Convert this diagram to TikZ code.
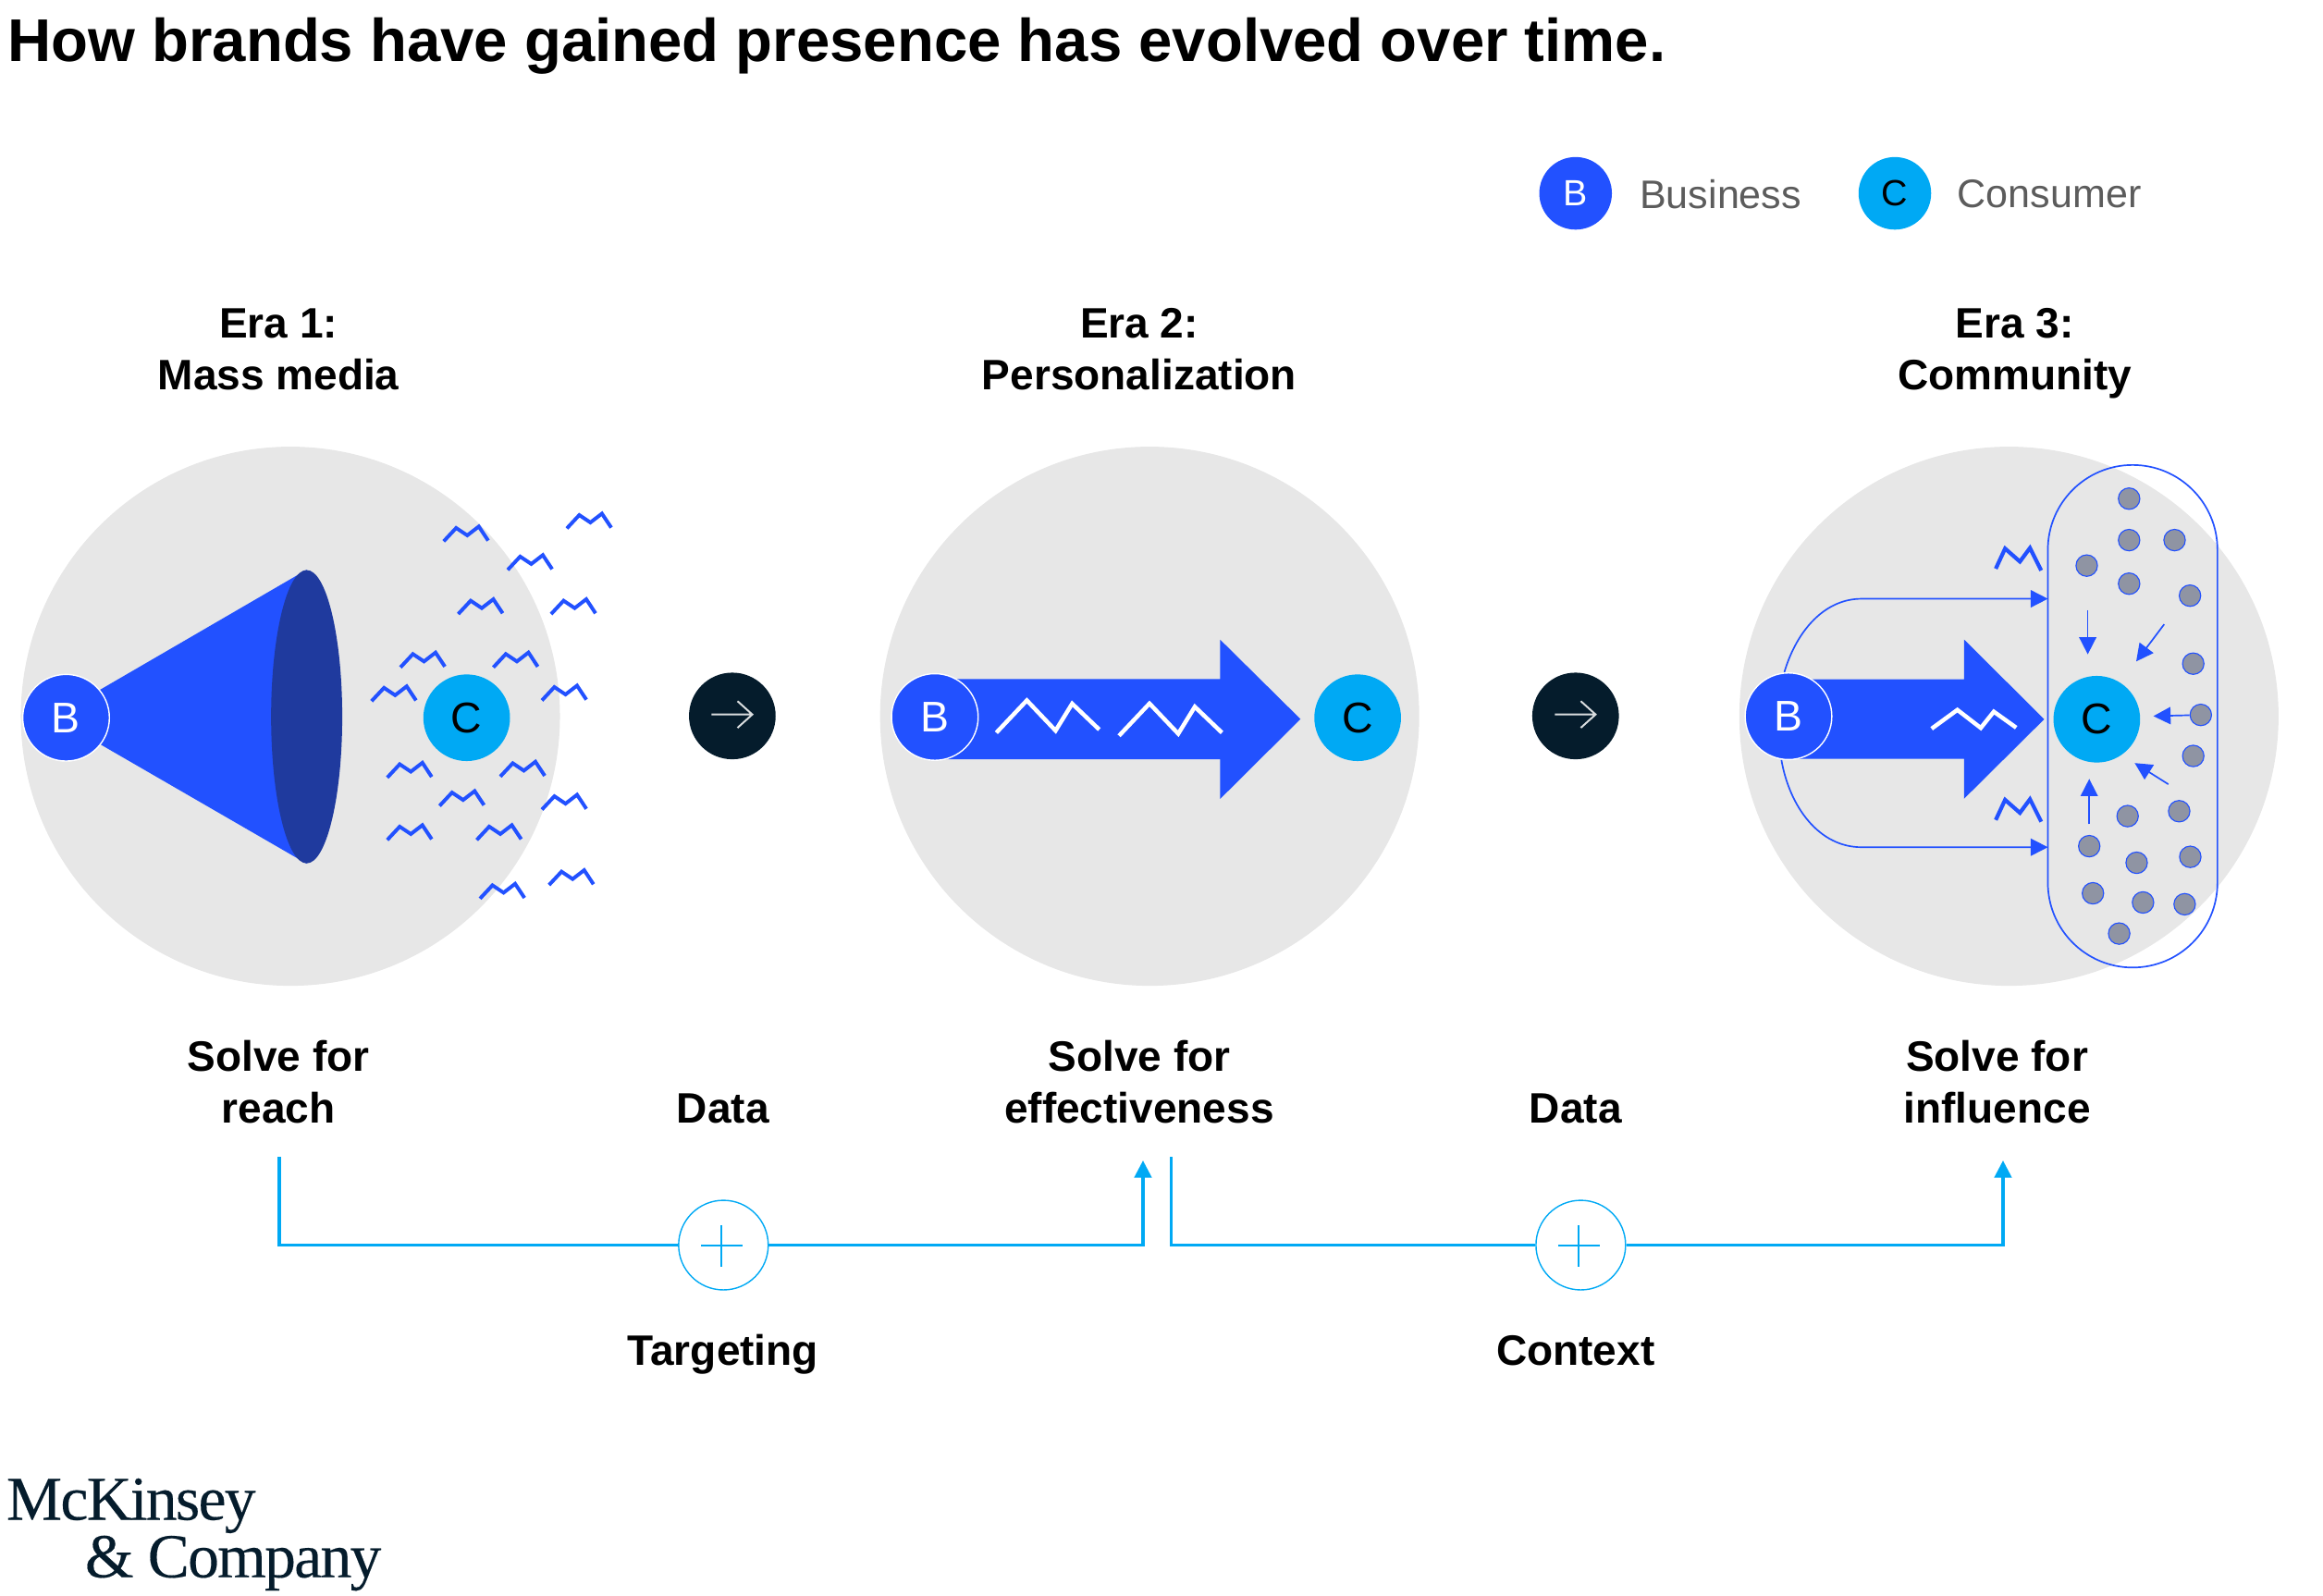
\documentclass[tikz,border=0pt]{standalone}
\usepackage{xcolor}
\usepackage{fontspec}
\setsansfont{Liberation Sans}
\newfontfamily\logofont[LetterSpace=-2.5, FakeBold=0.25]{Liberation Serif}
\usepackage{tikz}
\usetikzlibrary{arrows.meta}
\usetikzlibrary{positioning}
\definecolor{bizblue}{HTML}{2251FF}
\definecolor{deepblue}{HTML}{1F3A9E}
\definecolor{conscyan}{HTML}{00A9F4}
\definecolor{discgray}{HTML}{E7E7E7}
\definecolor{inkdark}{HTML}{051C2C}
\definecolor{dotgray}{HTML}{8F94A3}
\definecolor{legendgray}{HTML}{5C5C5C}
\tikzset{
  every node/.style={font=\sffamily},
  disc/.style={circle, fill=discgray, minimum size=7.28cm, inner sep=0pt},
  bnode/.style={circle, fill=bizblue, draw=white, line width=0.5pt, text=white, minimum size=1.17cm, inner sep=0pt, font=\sffamily\fontsize{16.5}{18}\selectfont},
  cnode/.style={circle, fill=conscyan, text=black, minimum size=1.17cm, inner sep=0pt, font=\sffamily\fontsize{16.5}{18}\selectfont},
  nextnode/.style={circle, fill=inkdark, minimum size=1.17cm, inner sep=0pt},
  label/.style={align=center, anchor=base, inner sep=0pt, font=\sffamily\bfseries\fontsize{16.35}{20}\selectfont},
  legendtext/.style={anchor=west, inner sep=0pt, text=legendgray, font=\sffamily\fontsize{15.3}{18}\selectfont},
  plusnode/.style={circle, draw=conscyan, line width=0.5pt, minimum size=1.21cm, inner sep=0pt},
  dotnode/.style={circle, fill=dotgray, draw=bizblue, line width=0.4pt, minimum size=0.29cm, inner sep=0pt},
  flow/.style={draw=conscyan, line width=1.1pt},
  fine/.style={draw=bizblue, line width=0.6pt},
  tip/.style={-{Triangle[length=6.6pt,width=6.6pt]}},
  ripple/.pic={\draw [bizblue, line width=1.4pt] (0,0) -- (8.4,-9) -- (15.9,-4) -- (23.7,-10) -- (30,-0.5);},
  tallripple/.pic={\draw [bizblue, line width=1.5pt] (0,0) -- (6.3,-13.6) -- (16.3,-4.8) -- (23.1,-14) -- (30.7,1.2);},
  longripple/.pic={\draw [white, line width=1.6pt] (0,0) -- (20.6,-21.8) -- (40,-1.4) -- (51.2,-19.6) -- (69.5,-2.1);},
  shortripple/.pic={\draw [white, line width=1.6pt] (0,0) -- (17.4,-12.7) -- (33.2,-0.5) -- (42,-11.5) -- (57.1,-0.7);},
  nextmark/.pic={\draw [white!85!inkdark, line width=0.7pt] (-14,-1) -- (13.5,-1) (3.5,-10) -- (13.5,-1) -- (3.5,8);},
  plusmark/.pic={\draw [conscyan, line width=0.7pt] (-15.3,0.5) -- (12.7,0.5) (-1.3,-13.5) -- (-1.3,14.5);}
}
\begin{document}
\begin{tikzpicture}[x=0.02cm, y=-0.02cm]
\useasboundingbox (0,0) rectangle (1568,1076.8);
\node [anchor=base west, inner sep=0pt, font=\sffamily\bfseries\fontsize{23.2}{26}\selectfont] (Title) at (5,41.2) {How brands have gained presence has evolved over time.};
\node [cnode, fill=bizblue, text=white, minimum size=0.98cm, font=\sffamily\fontsize{14}{16}\selectfont] (LegB) at (1063.5,130.5) {B};
\node [legendtext] (LegBText) at (1106.5,131) {Business};
\node [cnode, minimum size=0.98cm, font=\sffamily\fontsize{14}{16}\selectfont] (LegC) at (1279,130.5) {C};
\node [legendtext] (LegCText) at (1321,131) {Consumer};
\node [label] (Era1) at (188,263) {Era 1:\\Mass media};
\node [label] (Era2) at (769,263) {Era 2:\\Personalization};
\node [label] (Era3) at (1360,263) {Era 3:\\Community};
\node [disc] (Disc1) at (196,483.5) {};
\node [disc] (Disc2) at (776,483.5) {};
\node [disc] (Disc3) at (1356,483.5) {};
\fill [bizblue] (60,470) -- (207,384.6) -- (207,583) -- (60,498) -- cycle;
\fill [deepblue] (207,483.8) ellipse [x radius=24, y radius=99];
\foreach \x/\y in {299.5/365.4, 382.6/356.7, 342.7/384.7, 309.3/414.5, 372/414.5, 270.3/450.5, 333/450.5, 250.8/473.3, 365.8/472.8, 261.4/524.9, 337.7/524.2, 296.7/544, 365.8/546.5, 261.4/567, 321.8/567, 324/606.6, 370.6/597.4}
  \path (\x,\y) pic {ripple};
\node [bnode] (B1) at (44.6,484.5) {B};
\node [cnode] (C1) at (315,484.5) {C};
\node [nextnode] (Next1) at (494.3,483.3) {};
\path (Next1.center) pic {nextmark};
\fill [bizblue] (631,458.4) -- (823.6,458.4) -- (823.6,431.8) -- (877.8,485.4) -- (823.6,539.3) -- (823.6,512.5) -- (631,512.5) -- cycle;
\path (672.5,494.6) pic {longripple};
\path (755.3,496.7) pic {longripple};
\node [bnode] (B2) at (631,484) {B};
\node [cnode] (C2) at (916.4,484.5) {C};
\node [nextnode] (Next2) at (1063.5,483.3) {};
\path (Next2.center) pic {nextmark};
\node [draw=bizblue, line width=0.6pt, rounded corners=1.145cm, minimum width=2.29cm, minimum height=6.786cm, inner sep=0pt] (Pod) at (1439.5,483.5) {};
\coordinate (PodA) at (1382.3,404.2);
\coordinate (PodB) at (1382.3,571.9);
\draw [fine, tip] (1204.4,453.7) .. controls (1213,425) and (1232,404.2) .. (1256.5,404.2) -- (PodA);
\draw [fine, tip] (1202.4,512.9) .. controls (1208,545) and (1228,571.9) .. (1256.5,571.9) -- (PodB);
\fill [bizblue] (1207,458.5) -- (1325.7,458.5) -- (1325.7,431.7) -- (1379.8,485.5) -- (1325.7,539.2) -- (1325.7,512.2) -- (1207,512.2) -- cycle;
\path (1303.8,491.9) pic {shortripple};
\path (1347.1,383.9) pic {tallripple};
\path (1347.1,553.5) pic {tallripple};
\node [bnode] (B3) at (1207.2,483.5) {B};
\node [cnode] (C3) at (1415.3,485.5) {C};
\foreach \x/\y [count=\i] in {1437.1/336.6, 1437.1/364.6, 1467.8/364.6, 1408.5/381.8, 1437.1/394, 1478.2/402.1, 1480.4/448, 1485.5/482.6, 1480.4/510.3, 1470.9/547.6, 1436.1/550.9, 1410.2/571.2, 1478.4/578.4, 1442.2/582.4, 1412.7/603, 1446.5/609.2, 1474.6/610.4, 1430.4/630.2}
  \node [dotnode] (Dot\i) at (\x,\y) {};
\foreach \xa/\ya/\xb/\yb [count=\i] in {1409.2/411.9/1409.2/441.7, 1460.8/421.4/1441.9/446.5, 1463.6/529.4/1440.9/515.1, 1410.2/556.4/1410.2/525.8}
{
  \coordinate (PullA\i) at (\xa,\ya);
  \coordinate (PullB\i) at (\xb,\yb);
  \draw [fine, tip] (PullA\i) -- (PullB\i);
}
\coordinate (PullC) at (1453.5,483.4);
\draw [fine, tip] (Dot8) -- (PullC);
\node [label] (Goal1) at (188,758) {Solve for\\reach};
\node [label] (Goal2) at (769,758) {Solve for\\effectiveness};
\node [label] (Goal3) at (1348,758) {Solve for\\influence};
\node [label] (Data1) at (488,758) {Data};
\node [label] (Data2) at (1063.5,758) {Data};
\node [plusnode] (Plus1) at (488.3,840.5) {};
\node [plusnode] (Plus2) at (1067,840.5) {};
\path (Plus1.center) pic {plusmark};
\path (Plus2.center) pic {plusmark};
\coordinate (From1) at (188.5,781);
\coordinate (To1) at (771.5,783.4);
\coordinate (From2) at (790.6,781);
\coordinate (To2) at (1352,783.4);
\draw [flow] (From1) |- (Plus1);
\draw [flow, tip] (Plus1) -| (To1);
\draw [flow] (From2) |- (Plus2);
\draw [flow, tip] (Plus2) -| (To2);
\node [label] (Way1) at (488,921.4) {Targeting};
\node [label] (Way2) at (1063.5,921.4) {Context};
\node [anchor=base west, align=left, inner sep=0pt, text=inkdark, font=\logofont\fontsize{24}{22.1}\selectfont] (Logo) at (4,1064.7) {McKinsey\\\hspace*{30.2pt}\&~Company};
\end{tikzpicture}
\end{document}
